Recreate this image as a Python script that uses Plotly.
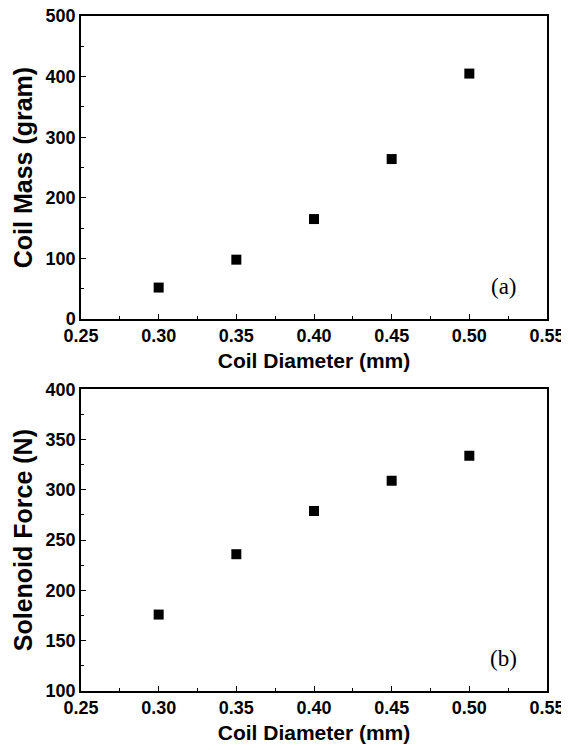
import plotly.graph_objects as go
from plotly.subplots import make_subplots

diameter = [0.30, 0.35, 0.40, 0.45, 0.50]
coil_mass = [52, 98, 165, 264, 405]
solenoid_force = [176, 236, 279, 309, 334]
x_ticks = [0.25, 0.30, 0.35, 0.40, 0.45, 0.50, 0.55]

fig = make_subplots(rows=2, cols=1, vertical_spacing=0.104)

marker = dict(symbol="square", size=10, color="black")
fig.add_trace(go.Scatter(x=diameter, y=coil_mass, mode="markers", marker=marker, showlegend=False), row=1, col=1)
fig.add_trace(go.Scatter(x=diameter, y=solenoid_force, mode="markers", marker=marker, showlegend=False), row=2, col=1)

SANS = "Liberation Sans, Arial, sans-serif"
tick_font = dict(family=SANS, size=18, color="black", weight="bold")
xtitle_font = dict(family=SANS, size=21, color="black", weight="bold")
ytitle_font = dict(family=SANS, size=25, color="black", weight="bold")

ax_common = dict(showline=True, linecolor="black", linewidth=1.5, mirror=True,
                 ticks="inside", ticklen=5, tickwidth=1, tickcolor="black",
                 showgrid=False, zeroline=False, tickfont=tick_font, automargin=False,
                 ticklabeloverflow="allow",
                 minor=dict(ticks="inside", ticklen=3, tickcolor="black", showgrid=False))

for r in (1, 2):
    fig.update_xaxes(range=[0.25, 0.55], tickvals=x_ticks, ticktext=[f"{v:.2f}" for v in x_ticks],
                     minor_dtick=0.025, title=dict(text="Coil Diameter (mm)", font=xtitle_font, standoff=8),
                     row=r, col=1, **ax_common)

fig.update_yaxes(range=[0, 500], dtick=100, minor_dtick=50, row=1, col=1,
                 title=dict(text="Coil Mass (gram)", font=ytitle_font, standoff=6), **ax_common)
fig.update_yaxes(range=[100, 400], dtick=50, minor_dtick=25, row=2, col=1,
                 title=dict(text="Solenoid Force (N)", font=ytitle_font, standoff=6), **ax_common)

# page body adds an 8px offset, so the figure is 8px smaller to keep the plot in place
fig.update_layout(
    width=561, height=742,
    margin=dict(l=73, r=22, t=8, b=59),
    plot_bgcolor="white", paper_bgcolor="white",
    yaxis=dict(domain=[0.551, 1.0]),
    yaxis2=dict(domain=[0.0, 0.447]),
)

serif = dict(family="Liberation Serif, Times New Roman, serif", size=23, color="black")
fig.add_annotation(text="(a)", x=0.522, y=53, xref="x", yref="y", showarrow=False, font=serif)
fig.add_annotation(text="(b)", x=0.522, y=132, xref="x2", yref="y2", showarrow=False, font=serif)

fig.write_html("out.html")
